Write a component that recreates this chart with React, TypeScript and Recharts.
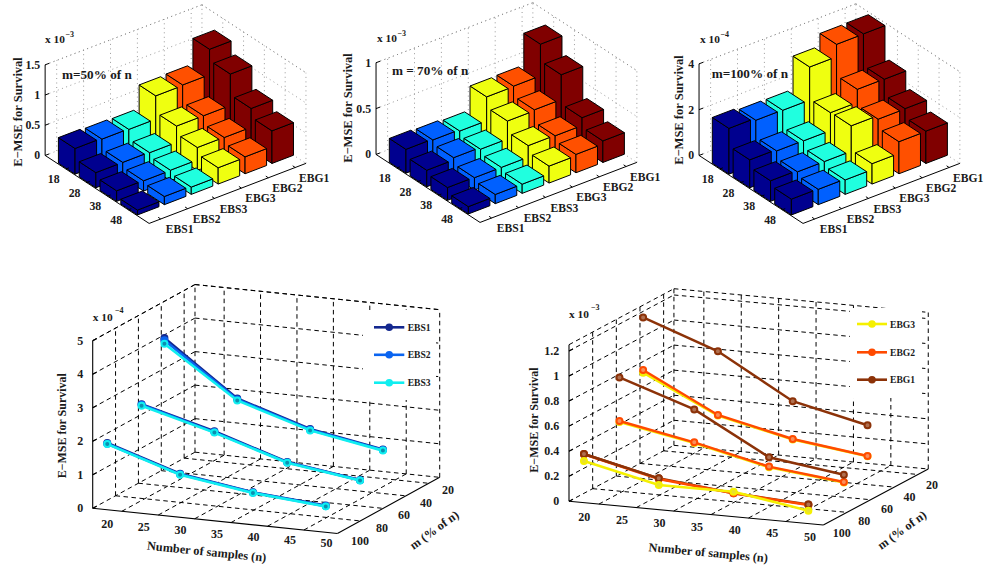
import React from 'react';
import { ScatterChart, Scatter, XAxis, YAxis } from 'recharts';

const W = 986, H = 569;
const FONT = '"Liberation Serif", serif';

// ---------- data ----------
const rowLabels = ['18', '28', '38', '48'];
const barSeries = ['EBS1', 'EBS2', 'EBS3', 'EBG3', 'EBG2', 'EBG1'];
const barColors = ['#00008f', '#0060ff', '#20ffdf', '#efff10', '#ff5000', '#800000'];

const bars50 = [
  [0.425, 0.25, 0.175, 0.08],
  [0.41, 0.25, 0.17, 0.135],
  [0.40, 0.24, 0.175, 0.12],
  [0.785, 0.51, 0.38, 0.27],
  [0.795, 0.51, 0.375, 0.28],
  [1.215, 1.03, 0.685, 0.54],
];
const bars70 = [
  [0.26, 0.18, 0.14, 0.08],
  [0.25, 0.205, 0.135, 0.10],
  [0.235, 0.185, 0.135, 0.10],
  [0.495, 0.38, 0.26, 0.185],
  [0.50, 0.39, 0.255, 0.20],
  [0.845, 0.66, 0.34, 0.235],
];
const bars100 = [
  [2.0, 1.22, 0.90, 0.69],
  [1.905, 1.16, 0.84, 0.67],
  [1.89, 1.15, 0.84, 0.63],
  [3.33, 1.93, 1.95, 0.89],
  [3.87, 2.5, 1.79, 1.40],
  [3.88, 2.49, 1.80, 1.41],
];

const sampleSizes = [18, 28, 38, 48];
const nTicks = [20, 25, 30, 35, 40, 45, 50];
const mTicks = [100, 80, 60, 40, 20];
const leftZTicks = [0, 1, 2, 3, 4, 5];
const rightZTicks = [0, 0.2, 0.4, 0.6, 0.8, 1, 1.2];

const ebs1m100 = [1.99, 1.30, 0.97, 0.80];
const ebs2m100 = [1.97, 1.28, 0.96, 0.78];
const ebs3m100 = [1.96, 1.27, 0.95, 0.77];
const ebs1m70 = [2.59, 2.005, 1.31, 1.00];
const ebs2m70 = [2.57, 1.98, 1.30, 0.99];
const ebs3m70 = [2.54, 1.965, 1.29, 0.98];
const ebs1m50 = [4.19, 2.61, 1.92, 1.53];
const ebs2m50 = [4.12, 2.58, 1.90, 1.52];
const ebs3m50 = [4.02, 2.55, 1.88, 1.50];

const ebg3m50 = [0.786, 0.499, 0.363, 0.285];
const ebg2m50 = [0.807, 0.504, 0.368, 0.287];
const ebg1m50 = [1.227, 1.012, 0.669, 0.533];
const ebg3m70 = [0.493, 0.381, 0.243, 0.176];
const ebg2m70 = [0.501, 0.386, 0.248, 0.181];
const ebg1m70 = [0.849, 0.649, 0.322, 0.239];
const ebg1m100 = [0.389, 0.25, 0.186, 0.153];
const ebg2m100 = [0.386, 0.245, 0.186, 0.148];
const ebg3m100 = [0.333, 0.197, 0.199, 0.103];

const ebsColors = ['#14288f', '#0a64f0', '#10eef0'];
const ebgColors = ['#f5f000', '#ff4a00', '#8c3208'];

// ---------- helpers ----------
type Seg = { x: number; y: number; x2: number; y2: number; stroke: string; dash?: string; w: number };
type Txt = { x: number; y: number; text: string; size: number; anchor?: string; rotate?: number; };

const SegShape = (p: any) => {
  const r = p.payload as Seg;
  const dx = p.cx - r.x, dy = p.cy - r.y;
  return <line x1={p.cx} y1={p.cy} x2={r.x2 + dx} y2={r.y2 + dy} stroke={r.stroke} strokeWidth={r.w} strokeDasharray={r.dash} />;
};
const TextShape = (p: any) => {
  const r = p.payload as Txt;
  return (
    <text x={p.cx} y={p.cy} textAnchor={(r.anchor || 'middle') as any} dominantBaseline="central"
      fontFamily={FONT} fontWeight="bold" fontSize={r.size} fill="#1a1a1a"
      transform={r.rotate ? `rotate(${r.rotate} ${p.cx} ${p.cy})` : undefined}>{r.text}</text>
  );
};
const BarShape = (p: any) => {
  const r = p.payload;
  const dx = p.cx - r.x, dy = p.cy - r.y;
  const s = (pts: number[][]) => pts.map((q) => `${q[0] + dx},${q[1] + dy}`).join(' ');
  return (
    <g stroke="#000" strokeWidth={1} strokeLinejoin="round" fill={r.fill}>
      <polygon points={s(r.left)} />
      <polygon points={s(r.right)} />
      <polygon points={s(r.top)} />
    </g>
  );
};
const RectShape = (p: any) => {
  const r = p.payload;
  return <rect x={p.cx} y={p.cy} width={r.w} height={r.h} fill="#fff" />;
};
const markerShape = (color: string, fill: string, rad: number) => (p: any) => (
  <circle cx={p.cx} cy={p.cy} r={rad} fill={fill} stroke={color} strokeWidth={2} />
);

// ---------- bar panels ----------
const I = [20.8, 13.6];
const J = [26.9, -10.3];
const iMin = -1, iMax = 4, jMin = -0.43, jMax = 5.4;

function barPanel(cx: number, cy: number, zs: number, zMax: number, zTicks: number[], values: number[][]) {
  const P = (i: number, j: number, z: number) => [cx + i * I[0] + j * J[0], cy + i * I[1] + j * J[1] - z * zs];
  const segs: Seg[] = [];
  const add = (a: number[], b: number[], stroke: string, w: number, dash?: string) =>
    segs.push({ x: a[0], y: a[1], x2: b[0], y2: b[1], stroke, w, dash });
  const dot = '1 3.5';
  const g = '#808080';
  zTicks.forEach((t) => {
    add(P(iMin, jMin, t), P(iMin, jMax, t), g, 0.8, dot);
    add(P(iMin, jMax, t), P(iMax, jMax, t), g, 0.8, dot);
  });
  [0, 1, 2, 3].forEach((i) => add(P(i, jMax, 0), P(i, jMax, zMax), g, 0.8, dot));
  [0, 1, 2, 3, 4, 5].forEach((j) => add(P(iMin, j, 0), P(iMin, j, zMax), g, 0.8, dot));
  add(P(iMin, jMax, 0), P(iMin, jMax, zMax), g, 0.8, dot);
  add(P(iMax, jMax, 0), P(iMax, jMax, zMax), g, 0.8, dot);
  add(P(iMin, jMin, zMax), P(iMin, jMax, zMax), g, 0.8, dot);
  add(P(iMin, jMax, zMax), P(iMax, jMax, zMax), g, 0.8, dot);
  const axes: Seg[] = [];
  const ax = (a: number[], b: number[]) => axes.push({ x: a[0], y: a[1], x2: b[0], y2: b[1], stroke: '#000', w: 1 });
  ax(P(iMin, jMin, 0), P(iMin, jMin, zMax));
  ax(P(iMin, jMin, 0), P(iMax, jMin, 0));
  ax(P(iMax, jMin, 0), P(iMax, jMax, 0));
  zTicks.forEach((t) => { const a = P(iMin, jMin, t); ax(a, [a[0] + 4, a[1] - 1.5]); });
  [0, 1, 2, 3].forEach((i) => { const a = P(i, jMin, 0); ax(a, [a[0] + 3, a[1] - 1.2]); });
  [0, 1, 2, 3, 4, 5].forEach((j) => { const a = P(iMax, j, 0); ax(a, [a[0] - 2.5, a[1] - 1.7]); });

  const rows: any[] = [];
  for (let j = 5; j >= 0; j--) {
    for (let i = 0; i < 4; i++) {
      const z = values[j][i];
      const a = 0.4;
      const lb = P(i - a, j - a, 0), fb = P(i + a, j - a, 0), rb = P(i + a, j + a, 0);
      const lt = P(i - a, j - a, z), ft = P(i + a, j - a, z), rt = P(i + a, j + a, z), bt = P(i - a, j + a, z);
      const c = P(i, j, 0);
      rows.push({
        x: c[0], y: c[1], fill: barColors[j],
        left: [lb, fb, ft, lt], right: [fb, rb, rt, ft], top: [lt, ft, rt, bt],
      });
    }
  }
  const labels: Txt[] = [];
  rowLabels.forEach((t, i) => {
    const a = P(i, jMin, 0);
    labels.push({ x: a[0] - 12.2, y: a[1] + 10, text: t, size: 11.8 });
  });
  barSeries.forEach((t, j) => {
    const a = P(iMax, j, 0);
    labels.push({ x: a[0] + 19, y: a[1] + 10.8, text: t, size: 11.6 });
  });
  zTicks.forEach((t) => {
    const a = P(iMin, jMin, t);
    labels.push({ x: a[0] - 5, y: a[1], text: String(t), size: 11.8, anchor: 'end' });
  });
  return { segs, axes, rows, labels };
}

const panelA = barPanel(77.5, 164.6, 60.4, 1.5, [0, 0.5, 1, 1.5], bars50);
const panelB = barPanel(408.4, 163.6, 91.7, 1, [0, 0.5, 1], bars70);
const panelC = barPanel(731.4, 164.6, 22.9, 4, [0, 2, 4], bars100);

const barTexts: Txt[] = [
  { x: 18, y: 112, text: 'E\u2212MSE for Survival', size: 12.5, rotate: -90 },
  { x: 348, y: 108, text: 'E\u2212MSE for Survival', size: 12.5, rotate: -90 },
  { x: 679, y: 110, text: 'E\u2212MSE for Survival', size: 12.5, rotate: -90 },
  { x: 45, y: 39, text: 'x 10', size: 11.4, anchor: 'start' },
  { x: 65.5, y: 34, text: '\u22123', size: 8, anchor: 'start' },
  { x: 377, y: 38, text: 'x 10', size: 11.4, anchor: 'start' },
  { x: 397.5, y: 33, text: '\u22123', size: 8, anchor: 'start' },
  { x: 700, y: 39, text: 'x 10', size: 11.4, anchor: 'start' },
  { x: 720.5, y: 34, text: '\u22124', size: 8, anchor: 'start' },
  { x: 62, y: 74, text: 'm=50% of n', size: 13.2, anchor: 'start' },
  { x: 392, y: 70, text: 'm = 70% of n', size: 13.2, anchor: 'start' },
  { x: 711.7, y: 73, text: 'm=100% of n', size: 13.2, anchor: 'start' },
];

// ---------- line panels ----------
const xMin = 16;
function linePanel(o: number[], X: number[], M: number[], Z: number, mBack: number, zMax: number, zTicks: number[], xEnd: number) {
  const P = (x: number, m: number, z: number) => [
    o[0] + (x - xMin) * X[0] + (100 - m) * M[0],
    o[1] + (x - xMin) * X[1] + (100 - m) * M[1] - z * Z,
  ];
  const segs: Seg[] = [];
  const dash = '4.5 3.5';
  const add = (a: number[], b: number[]) => segs.push({ x: a[0], y: a[1], x2: b[0], y2: b[1], stroke: '#000', w: 1, dash });
  const xt = nTicks.filter((t) => t < xEnd);
  const mt = mTicks.slice(1);
  zTicks.concat(zMax).forEach((t) => {
    add(P(xMin, 100, t), P(xMin, mBack, t));
    add(P(xMin, mBack, t), P(xEnd, mBack, t));
  });
  xt.forEach((t) => {
    add(P(t, 100, 0), P(t, mBack, 0));
    add(P(t, mBack, 0), P(t, mBack, zMax));
  });
  mt.forEach((t) => {
    add(P(xMin, t, 0), P(xEnd, t, 0));
    add(P(xMin, t, 0), P(xMin, t, zMax));
  });
  add(P(xMin, mBack, 0), P(xMin, mBack, zMax));
  add(P(xEnd, mBack, 0), P(xEnd, mBack, zMax));
  const axes: Seg[] = [];
  const ax = (a: number[], b: number[]) => axes.push({ x: a[0], y: a[1], x2: b[0], y2: b[1], stroke: '#000', w: 1.1 });
  ax(P(xMin, 100, 0), P(xMin, 100, zMax));
  ax(P(xMin, 100, 0), P(xEnd, 100, 0));
  ax(P(xEnd, 100, 0), P(xEnd, mBack, 0));
  zTicks.forEach((t) => { const a = P(xMin, 100, t); ax(a, [a[0] + 4, a[1] - 2]); });
  return { P, segs, axes };
}

const L = linePanel([92.7, 508.3], [7.283, 0.749], [1.143, -0.627], 33.53, 10.5, 5, leftZTicks, 49.6);
const R = linePanel([569, 501.3], [7.48, 0.696], [1.183, -0.631], 125.3, 11.3, 1.25, rightZTicks, 50);

const lineRows = (P: any, m: number, vals: number[]) =>
  sampleSizes.map((n, k) => { const q = P(n, m, vals[k]); return { x: q[0], y: q[1] }; });

const leftSeries = [
  { d: lineRows(L.P, 50, ebs1m50), c: 0 }, { d: lineRows(L.P, 50, ebs2m50), c: 1 }, { d: lineRows(L.P, 50, ebs3m50), c: 2 },
  { d: lineRows(L.P, 70, ebs1m70), c: 0 }, { d: lineRows(L.P, 70, ebs2m70), c: 1 }, { d: lineRows(L.P, 70, ebs3m70), c: 2 },
  { d: lineRows(L.P, 100, ebs1m100), c: 0 }, { d: lineRows(L.P, 100, ebs2m100), c: 1 }, { d: lineRows(L.P, 100, ebs3m100), c: 2 },
];
const g1m100Rows = lineRows(R.P, 100, ebg1m100);
const rightSeries = [
  { d: lineRows(R.P, 50, ebg3m50), c: 0 }, { d: lineRows(R.P, 50, ebg2m50), c: 1 }, { d: lineRows(R.P, 50, ebg1m50), c: 2 },
  { d: lineRows(R.P, 70, ebg3m70), c: 0 }, { d: lineRows(R.P, 70, ebg2m70), c: 1 }, { d: lineRows(R.P, 70, ebg1m70), c: 2 },
  { d: g1m100Rows, c: 2 }, { d: lineRows(R.P, 100, ebg2m100), c: 1 },
  { d: g1m100Rows.slice(0, 2), c: 2 }, { d: g1m100Rows.slice(3), c: 2 },
  { d: lineRows(R.P, 100, ebg3m100), c: 0 },
];

const lineTexts: Txt[] = [];
nTicks.forEach((t) => {
  lineTexts.push({ x: 107.3 + (t - 20) * 7.31, y: 524 + (t - 20) * 0.64, text: String(t), size: 12 });
  lineTexts.push({ x: 584.3 + (t - 20) * 7.52, y: 516.7 + (t - 20) * 0.667, text: String(t), size: 12 });
});
mTicks.forEach((t, k) => {
  lineTexts.push({ x: 360 + k * 22, y: 540.7 - k * 12.7, text: String(t), size: 12 });
  lineTexts.push({ x: 841.7 + k * 22.6, y: 532.7 - k * 11.9, text: String(t), size: 12 });
});
leftZTicks.forEach((t) => lineTexts.push({ x: 83.3, y: 508.3 - t * 33.53, text: String(t), size: 12, anchor: 'end' }));
rightZTicks.forEach((t) => lineTexts.push({ x: 559.3, y: 501.3 - t * 125.3, text: String(t), size: 12, anchor: 'end' }));
lineTexts.push(
  { x: 61.7, y: 425.7, text: 'E\u2212MSE for Survival', size: 12, rotate: -90 },
  { x: 534.3, y: 420, text: 'E\u2212MSE for Survival', size: 12, rotate: -90 },
  { x: 206.7, y: 551.7, text: 'Number of samples (n)', size: 12.3, rotate: 5.8 },
  { x: 708.3, y: 552.7, text: 'Number of samples (n)', size: 12.3, rotate: 5.3 },
  { x: 434.3, y: 530, text: 'm (% of n)', size: 12.3, rotate: -36 },
  { x: 902, y: 530, text: 'm (% of n)', size: 12.3, rotate: -36 },
  { x: 92.7, y: 317, text: 'x 10', size: 11.4, anchor: 'start' },
  { x: 115, y: 310, text: '\u22124', size: 8, anchor: 'start' },
  { x: 569, y: 314, text: 'x 10', size: 11.4, anchor: 'start' },
  { x: 591, y: 307, text: '\u22123', size: 8, anchor: 'start' },
);

const legendLeft = ['EBS1', 'EBS2', 'EBS3'];
const legendLeftY = [327.3, 354.8, 382.7];
const legendRight = ['EBG3', 'EBG2', 'EBG1'];
const legendRightY = [324, 352.3, 379.7];

const masks = [
  { x: 363, y: 310, w: 73, h: 90 },
  { x: 850, y: 308, w: 72, h: 90 },
];

const legendTexts: Txt[] = [
  ...legendLeft.map((t, k) => ({ x: 407.7, y: legendLeftY[k], text: t, size: 9.6, anchor: 'start' })),
  ...legendRight.map((t, k) => ({ x: 890, y: legendRightY[k], text: t, size: 9.6, anchor: 'start' })),
];

const allGrid = [...panelA.segs, ...panelB.segs, ...panelC.segs, ...L.segs, ...R.segs];
const allAxes = [...panelA.axes, ...panelB.axes, ...panelC.axes, ...L.axes, ...R.axes];
const allBars = [...panelA.rows, ...panelB.rows, ...panelC.rows];
const allTexts = [...panelA.labels, ...panelB.labels, ...panelC.labels, ...barTexts, ...lineTexts, ...legendTexts];

const S = (props: any) => <Scatter isAnimationActive={false} {...props} />;

export default function App() {
  return (
    <div style={{ position: 'absolute', left: 0, top: 0, width: W, height: H, background: '#fff' }}>
      <ScatterChart width={W} height={H} margin={{ top: 0, right: 0, bottom: 0, left: 0 }}>
        <XAxis type="number" dataKey="x" domain={[0, W]} allowDataOverflow hide />
        <YAxis type="number" dataKey="y" domain={[0, H]} allowDataOverflow reversed hide />
        {S({ data: allGrid, shape: SegShape, key: 'grid' })}
        {S({ data: masks, shape: RectShape, key: 'masks' })}
        {S({ data: allBars, shape: BarShape, key: 'bars' })}
        {S({ data: allAxes, shape: SegShape, key: 'axes' })}
        {leftSeries.map((s, k) =>
          S({ key: 'l' + k, data: s.d, line: { stroke: ebsColors[s.c], strokeWidth: 2.6 }, shape: markerShape(ebsColors[s.c], s.c === 2 ? '#0c8fb0' : ebsColors[s.c], 3) }))}
        {rightSeries.map((s, k) =>
          S({ key: 'r' + k, data: s.d, line: { stroke: ebgColors[s.c], strokeWidth: 2.5 }, shape: markerShape(ebgColors[s.c], s.c === 0 ? '#e8e030' : s.c === 1 ? '#f8905a' : '#b07050', 3) }))}
        {legendLeft.map((t, k) =>
          S({ key: t, data: [{ x: 374, y: legendLeftY[k] }, { x: 389.2, y: legendLeftY[k] }, { x: 404.3, y: legendLeftY[k] }],
            line: { stroke: ebsColors[k], strokeWidth: 2.6 },
            shape: (p: any) => (p.index === 1 ? <circle cx={p.cx} cy={p.cy} r={3.8} fill={ebsColors[k]} /> : <g />) }))}
        {legendRight.map((t, k) =>
          S({ key: t, data: [{ x: 857, y: legendRightY[k] }, { x: 872, y: legendRightY[k] }, { x: 887, y: legendRightY[k] }],
            line: { stroke: ebgColors[k], strokeWidth: 2.6 },
            shape: (p: any) => (p.index === 1 ? <circle cx={p.cx} cy={p.cy} r={3.8} fill={ebgColors[k]} /> : <g />) }))}
        {S({ data: allTexts, shape: TextShape, key: 'texts' })}
      </ScatterChart>
    </div>
  );
}
